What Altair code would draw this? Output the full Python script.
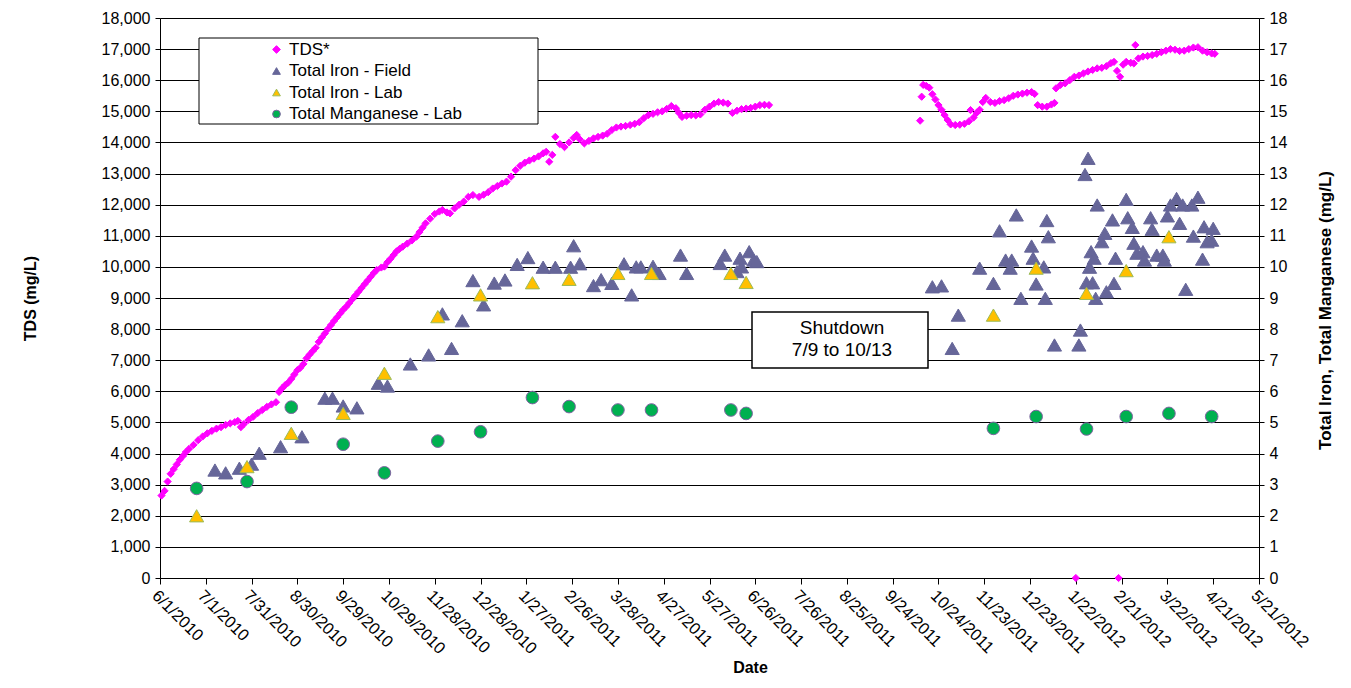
import altair as alt
import pandas as pd

FONT = "Liberation Sans"

series_names = ["TDS*", "Total Iron - Field", "Total Iron - Lab", "Total Manganese - Lab"]
fill_colors = ["#FF00FF", "#666699", "#FFC000", "#00B050"]
stroke_colors = ["#FF00FF", "#666699", "#9BBB59", "#8064A2"]
shapes = ["diamond", "triangle-up", "triangle-up", "circle"]

tds_dates = [
    "2010-06-02", "2010-06-04", "2010-06-06", "2010-06-08", "2010-06-10", "2010-06-12", "2010-06-14",
    "2010-06-16", "2010-06-18", "2010-06-20", "2010-06-23", "2010-06-26", "2010-06-29", "2010-07-02",
    "2010-07-05", "2010-07-08", "2010-07-11", "2010-07-14", "2010-07-17", "2010-07-20", "2010-07-22",
    "2010-07-24", "2010-07-26", "2010-07-29", "2010-08-01", "2010-08-04", "2010-08-07", "2010-08-10",
    "2010-08-13", "2010-08-16", "2010-08-18", "2010-08-20", "2010-08-22", "2010-08-24", "2010-08-26",
    "2010-08-28", "2010-08-30", "2010-09-01", "2010-09-03", "2010-09-05", "2010-09-07", "2010-09-09",
    "2010-09-11", "2010-09-13", "2010-09-15", "2010-09-17", "2010-09-19", "2010-09-21", "2010-09-23",
    "2010-09-25", "2010-09-27", "2010-09-29", "2010-10-01", "2010-10-03", "2010-10-05", "2010-10-07",
    "2010-10-09", "2010-10-11", "2010-10-13", "2010-10-15", "2010-10-17", "2010-10-19", "2010-10-21",
    "2010-10-24", "2010-10-26", "2010-10-28", "2010-10-30", "2010-11-01", "2010-11-03", "2010-11-05",
    "2010-11-07", "2010-11-10", "2010-11-13", "2010-11-16", "2010-11-18", "2010-11-20", "2010-11-22",
    "2010-11-25", "2010-11-28", "2010-12-01", "2010-12-03", "2010-12-06", "2010-12-08",
    "2010-12-11", "2010-12-14", "2010-12-17", "2010-12-20", "2010-12-23", "2010-12-27", "2010-12-30",
    "2011-01-02", "2011-01-05", "2011-01-08", "2011-01-11", "2011-01-14", "2011-01-17", "2011-01-20",
    "2011-01-23", "2011-01-26", "2011-01-29", "2011-02-01", "2011-02-04", "2011-02-07", "2011-02-09",
    "2011-02-11", "2011-02-13", "2011-02-15", "2011-02-18", "2011-02-21", "2011-02-24", "2011-02-27",
    "2011-03-01", "2011-03-03", "2011-03-06", "2011-03-09", "2011-03-12", "2011-03-15", "2011-03-18",
    "2011-03-21", "2011-03-24", "2011-03-27", "2011-03-30", "2011-04-02", "2011-04-05", "2011-04-08",
    "2011-04-11", "2011-04-14", "2011-04-17", "2011-04-20", "2011-04-23", "2011-04-26", "2011-04-29",
    "2011-05-02", "2011-05-05", "2011-05-07", "2011-05-09", "2011-05-12", "2011-05-15", "2011-05-18",
    "2011-05-21", "2011-05-24", "2011-05-27", "2011-05-30", "2011-06-02", "2011-06-05", "2011-06-08",
    "2011-06-11", "2011-06-14", "2011-06-17", "2011-06-20", "2011-06-23", "2011-06-26", "2011-06-29",
    "2011-07-02", "2011-07-05",
    "2011-10-12", "2011-10-13", "2011-10-14", "2011-10-16", "2011-10-18", "2011-10-20", "2011-10-22",
    "2011-10-24", "2011-10-26", "2011-10-28", "2011-10-30", "2011-11-01", "2011-11-04", "2011-11-07",
    "2011-11-10", "2011-11-13", "2011-11-14", "2011-11-16", "2011-11-18", "2011-11-20", "2011-11-22",
    "2011-11-24", "2011-11-27", "2011-11-30", "2011-12-03", "2011-12-06", "2011-12-09", "2011-12-12",
    "2011-12-15", "2011-12-18", "2011-12-21", "2011-12-24", "2011-12-26", "2011-12-28", "2011-12-31",
    "2012-01-03", "2012-01-06", "2012-01-08", "2012-01-09", "2012-01-12", "2012-01-15", "2012-01-18",
    "2012-01-21", "2012-01-24", "2012-01-27", "2012-01-30", "2012-02-02", "2012-02-05", "2012-02-08",
    "2012-02-11", "2012-02-14", "2012-02-16", "2012-02-18", "2012-02-20", "2012-02-22", "2012-02-24",
    "2012-02-27", "2012-02-29", "2012-03-01", "2012-03-03", "2012-03-06", "2012-03-09", "2012-03-12",
    "2012-03-15", "2012-03-18", "2012-03-21", "2012-03-24", "2012-03-27", "2012-03-30", "2012-04-02",
    "2012-04-05", "2012-04-08", "2012-04-11", "2012-04-14", "2012-04-17", "2012-04-20", "2012-04-22",
    "2012-01-22", "2012-02-19",
]
tds_values = [
    2650, 2800, 3100, 3350, 3500, 3650, 3800,
    3920, 4050, 4150, 4280, 4430, 4550, 4650,
    4730, 4800, 4850, 4920, 4970, 5010, 5050,
    4850, 4950, 5080, 5180, 5300, 5400, 5500,
    5580, 5650, 5980, 6100, 6200, 6280, 6400,
    6540, 6680, 6760, 6880, 7060, 7180, 7290,
    7400, 7590, 7730, 7860, 8000, 8130, 8260,
    8380, 8500, 8620, 8720, 8840, 8960, 9080,
    9200, 9320, 9440, 9560, 9680, 9800, 9900,
    9980, 10010, 10150, 10260, 10380, 10500, 10580,
    10650, 10750, 10850, 10970, 11120, 11260, 11400,
    11550, 11700, 11780, 11830, 11750, 11720,
    11880, 12000, 12100, 12250, 12310, 12250, 12320,
    12400, 12520, 12600, 12680, 12740, 12900, 13110,
    13250, 13350, 13420, 13480, 13550, 13650, 13700,
    13380, 13600, 14180, 13950, 13850, 14000, 14150,
    14240, 14100, 13970, 14050, 14130, 14180, 14220,
    14280, 14400, 14480, 14510, 14530, 14560, 14600,
    14650, 14780, 14880, 14920, 14970, 15000, 15080,
    15170, 15100, 14950, 14820, 14860, 14880, 14870,
    14900, 15050, 15150, 15250, 15300, 15280, 15250,
    14950, 15020, 15070, 15090, 15110, 15150, 15200,
    15210, 15200,
    14700, 15470, 15850, 15820, 15760, 15550, 15380,
    15200, 15050, 14880, 14720, 14580, 14560, 14570,
    14600, 14680, 15040, 14800, 14950, 15050, 15300,
    15430, 15300, 15270, 15330, 15360, 15420, 15500,
    15540, 15570, 15600, 15620, 15560, 15200, 15150,
    15150, 15220, 15270, 15740, 15850, 15900, 16000,
    16110, 16150, 16220, 16280, 16330, 16380, 16400,
    16450, 16550, 16590, 16300, 16110, 16500, 16590,
    16560, 16540, 17130, 16700, 16760, 16780, 16810,
    16850, 16900, 16950, 17000, 16980, 16940, 16950,
    17000, 17050, 17060, 16950, 16900, 16860, 16850,
    0, 0,
]

fe_field_dates = [
    "2010-07-07", "2010-07-14", "2010-07-23", "2010-07-31", "2010-08-05", "2010-08-19", "2010-09-02",
    "2010-09-17", "2010-09-22", "2010-09-29", "2010-10-08", "2010-10-22", "2010-10-28", "2010-11-12",
    "2010-11-24", "2010-12-03", "2010-12-09", "2010-12-16", "2010-12-23", "2010-12-30", "2011-01-06",
    "2011-01-13", "2011-01-21", "2011-01-28", "2011-02-07", "2011-02-15", "2011-02-25", "2011-02-27",
    "2011-03-03", "2011-03-12", "2011-03-17", "2011-03-24", "2011-04-01", "2011-04-06", "2011-04-09",
    "2011-04-12", "2011-04-20", "2011-04-24", "2011-05-08", "2011-05-12", "2011-06-03", "2011-06-06",
    "2011-06-14", "2011-06-16", "2011-06-17", "2011-06-22", "2011-06-25", "2011-06-27",
    "2011-10-20", "2011-10-26", "2011-11-02", "2011-11-06", "2011-11-20", "2011-11-29", "2011-12-03",
    "2011-12-07", "2011-12-10", "2011-12-11", "2011-12-14", "2011-12-17", "2011-12-24", "2011-12-25",
    "2011-12-27", "2012-01-01", "2012-01-02", "2012-01-03", "2012-01-04", "2012-01-08", "2012-01-24",
    "2012-01-25", "2012-01-28", "2012-01-29", "2012-01-30", "2012-01-31", "2012-02-01", "2012-02-02",
    "2012-02-03", "2012-02-04", "2012-02-05", "2012-02-08", "2012-02-10", "2012-02-11", "2012-02-15",
    "2012-02-16", "2012-02-17", "2012-02-24", "2012-02-25", "2012-02-28", "2012-02-29", "2012-03-02",
    "2012-03-06", "2012-03-07", "2012-03-11", "2012-03-12", "2012-03-15", "2012-03-19", "2012-03-20",
    "2012-03-22", "2012-03-24", "2012-03-28", "2012-03-30", "2012-04-01", "2012-04-03", "2012-04-07",
    "2012-04-08", "2012-04-11", "2012-04-14", "2012-04-15", "2012-04-17", "2012-04-20", "2012-04-21",
]
fe_field_values = [
    3.47, 3.38, 3.53, 3.66, 4.01, 4.22, 4.54,
    5.78, 5.78, 5.53, 5.47, 6.26, 6.17, 6.88,
    7.17, 8.49, 7.38, 8.27, 9.56, 8.78, 9.48,
    9.58, 10.08, 10.30, 9.99, 9.99, 9.99, 10.68,
    10.10, 9.40, 9.59, 9.47, 10.10, 9.10, 10.00,
    10.00, 10.02, 9.79, 10.38, 9.79, 10.11, 10.38,
    9.85, 10.28, 10.00, 10.49, 10.22, 10.17,
    9.36, 9.39, 7.38, 8.45, 9.96, 9.47, 11.16,
    10.22, 9.96, 10.22, 11.67, 8.99, 10.67, 10.28,
    9.45, 10.00, 8.99, 11.49, 10.97, 7.49, 7.49,
    7.97, 12.97, 9.49, 13.49, 9.99, 10.49, 9.49,
    10.28, 8.99, 11.99, 10.81, 11.08, 9.20, 11.51,
    9.47, 10.28, 12.17, 11.58, 11.27, 10.76, 10.44,
    10.49, 10.22, 11.58, 11.21, 10.38, 10.38, 10.22,
    11.64, 11.99, 12.20, 11.40, 11.99, 9.28, 11.99,
    10.99, 12.24, 10.25, 11.29, 10.81, 10.86, 11.24,
]

fe_lab_dates = [
    "2010-06-25", "2010-07-28", "2010-08-26", "2010-09-29", "2010-10-26", "2010-11-30", "2010-12-28",
    "2011-01-31", "2011-02-24", "2011-03-28", "2011-04-19", "2011-06-10", "2011-06-20",
    "2011-11-29", "2011-12-27", "2012-01-29", "2012-02-24", "2012-03-23",
]
fe_lab_values = [
    2.0, 3.58, 4.65, 5.29, 6.58, 8.40, 9.10,
    9.49, 9.60, 9.79, 9.79, 9.79, 9.50,
    8.45, 9.96, 9.15, 9.88, 10.97,
]

mn_lab_dates = [
    "2010-06-25", "2010-07-28", "2010-08-26", "2010-09-29", "2010-10-26", "2010-11-30", "2010-12-28",
    "2011-01-31", "2011-02-24", "2011-03-28", "2011-04-19", "2011-06-10", "2011-06-20",
    "2011-11-29", "2011-12-27", "2012-01-29", "2012-02-24", "2012-03-23", "2012-04-20",
]
mn_lab_values = [
    2.88, 3.10, 5.49, 4.30, 3.38, 4.40, 4.70,
    5.80, 5.51, 5.40, 5.40, 5.40, 5.29,
    4.81, 5.19, 4.79, 5.19, 5.29, 5.19,
]

x_tick_dates = [
    "2010-06-01", "2010-07-01", "2010-07-31", "2010-08-30", "2010-09-29", "2010-10-29", "2010-11-28",
    "2010-12-28", "2011-01-27", "2011-02-26", "2011-03-28", "2011-04-27", "2011-05-27", "2011-06-26",
    "2011-07-26", "2011-08-25", "2011-09-24", "2011-10-24", "2011-11-23", "2011-12-23", "2012-01-22",
    "2012-02-21", "2012-03-22", "2012-04-21", "2012-05-21",
]
tds_ticks = [0, 1000, 2000, 3000, 4000, 5000, 6000, 7000, 8000, 9000, 10000,
             11000, 12000, 13000, 14000, 15000, 16000, 17000, 18000]
mgl_ticks = [0, 1, 2, 3, 4, 5, 6, 7, 8, 9, 10, 11, 12, 13, 14, 15, 16, 17, 18]

note_text = "Shutdown\n7/9 to 10/13"


def to_dt(s):
    y, m, d = (int(p) for p in s.split("-"))
    return alt.DateTime(year=y, month=m, date=d)


def frame(dates, values, name, col):
    return pd.DataFrame({"date": [d + "T00:00:00" for d in dates], col: values, "series": name})


tds_df = frame(tds_dates, tds_values, series_names[0], "tds")
field_df = frame(fe_field_dates, fe_field_values, series_names[1], "mgl")
lab_df = frame(fe_lab_dates, fe_lab_values, series_names[2], "mgl")
mn_df = frame(mn_lab_dates, mn_lab_values, series_names[3], "mgl")

x_enc = alt.X(
    "date:T",
    scale=alt.Scale(domain=[to_dt(x_tick_dates[0]), to_dt(x_tick_dates[-1])], nice=False),
    axis=alt.Axis(
        values=[to_dt(d) for d in x_tick_dates],
        format="%-m/%-d/%Y",
        title="Date",
        labelAngle=45,
        labelAlign="left",
        labelBaseline="top",
        labelPadding=3,
        labelFontSize=16.5,
        labelOverlap=False,
        labelFlush=False,
        tickSize=6,
        grid=False,
        titleX=590,
        titleY=89,
        titleBaseline="middle",
    ),
)

legend = alt.Legend(
    orient="none",
    legendX=108,
    legendY=23,
    labelFont=FONT,
    labelFontSize=17,
    labelColor="black",
    labelLimit=400,
    symbolSize=60,
    symbolStrokeWidth=1,
    rowPadding=3.5,
    labelOffset=4,
    padding=0,
    zindex=1,
)

fill_scale = alt.Scale(domain=series_names, range=fill_colors)
stroke_scale = alt.Scale(domain=series_names, range=stroke_colors)
shape_scale = alt.Scale(domain=series_names, range=shapes)


def style_enc():
    return dict(
        fill=alt.Fill("series:N", scale=fill_scale, legend=legend, title=None),
        stroke=alt.Stroke("series:N", scale=stroke_scale, legend=legend, title=None),
        shape=alt.Shape("series:N", scale=shape_scale, legend=legend, title=None),
    )


tds_y = alt.Y(
    "tds:Q",
    scale=alt.Scale(domain=[0, 18000], nice=False),
    axis=alt.Axis(
        orient="left",
        values=tds_ticks,
        labelExpr="format(datum.value, ',')",
        title="TDS (mg/L)",
        grid=True,
        tickSize=5,
        labelPadding=5,
        labelFontSize=16,
        titleAngle=270,
        titleX=-130,
        titleY=280,
        titleBaseline="middle",
    ),
)


def mgl_y():
    return alt.Y(
        "mgl:Q",
        scale=alt.Scale(domain=[0, 18], nice=False),
        axis=alt.Axis(
            orient="right",
            values=mgl_ticks,
            labelExpr="format(datum.value, 'd')",
            title="Total Iron, Total Manganese  (mg/L)",
            grid=False,
            tickSize=5,
            labelPadding=5,
            labelFontSize=16,
            titleAngle=270,
            titleFontSize=17,
            titleX=66,
            titleY=292,
            titleBaseline="middle",
        ),
    )


box_df = pd.DataFrame({"k": [0]})

legend_box = alt.Chart(box_df).mark_rect(fill="white", stroke="black", strokeWidth=1).encode(
    x=alt.value(39), x2=alt.value(378), y=alt.value(20), y2=alt.value(106)
)
note_box = alt.Chart(box_df).mark_rect(fill="white", stroke="black", strokeWidth=1.5).encode(
    x=alt.value(592), x2=alt.value(768), y=alt.value(294), y2=alt.value(350)
)
note = alt.Chart(box_df).mark_text(
    text=note_text, lineBreak="\n", font=FONT, fontSize=19, color="black",
    align="center", baseline="middle", lineHeight=22,
).encode(x=alt.value(682), y=alt.value(310))

tds_layer = alt.Chart(tds_df).mark_point(filled=True, opacity=1, size=52, strokeWidth=1).encode(
    x=x_enc, y=tds_y, **style_enc()
)
field_layer = alt.Chart(field_df).mark_point(filled=True, opacity=1, size=200, strokeWidth=1).encode(
    x=x_enc, y=mgl_y(), **style_enc()
)
lab_layer = alt.Chart(lab_df).mark_point(filled=True, opacity=1, size=200, strokeWidth=1).encode(
    x=x_enc, y=mgl_y(), **style_enc()
)
mn_layer = alt.Chart(mn_df).mark_point(filled=True, opacity=1, size=160, strokeWidth=1).encode(
    x=x_enc, y=mgl_y(), **style_enc()
)

mgl_layers = alt.layer(field_layer, lab_layer, mn_layer)

chart = (
    alt.layer(legend_box, note_box, note, tds_layer, mgl_layers)
    .resolve_scale(y="independent")
    .properties(
        width=1099,
        height=560,
        autosize=alt.AutoSizeParams(type="none"),
        padding={"left": 152, "top": 10, "right": 76, "bottom": 102},
        background="white",
    )
    .configure_view(stroke="transparent")
    .configure_axis(
        labelFont=FONT,
        titleFont=FONT,
        labelFontSize=16,
        titleFontSize=16,
        titleFontWeight="bold",
        labelColor="black",
        titleColor="black",
        domainColor="black",
        tickColor="black",
        gridColor="black",
        gridWidth=1,
        domainWidth=1,
    )
)

chart.save("out.html", embed_options={"renderer": "svg", "actions": False})
